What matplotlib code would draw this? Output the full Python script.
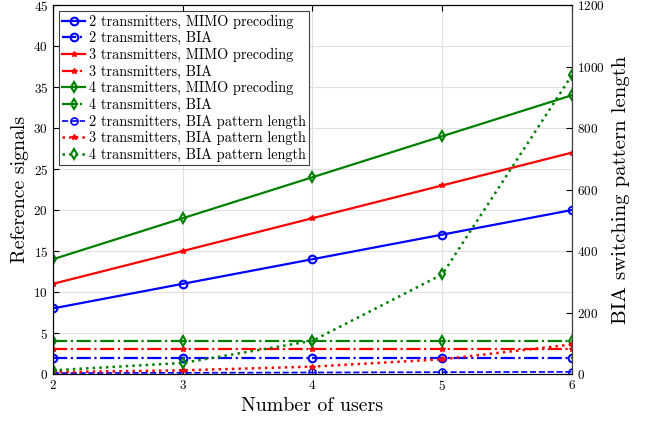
import matplotlib
matplotlib.use('Agg')
import matplotlib.pyplot as plt
import numpy as np

plt.rcParams['font.family'] = ['cmr10', 'DejaVu Serif']
plt.rcParams['axes.unicode_minus'] = False
plt.rcParams['axes.formatter.use_mathtext'] = True

users = [2, 3, 4, 5, 6]

# reference signals (left axis)
mimo_2tx = [8, 11, 14, 17, 20]
bia_2tx = [2, 2, 2, 2, 2]
mimo_3tx = [11, 15, 19, 23, 27]
bia_3tx = [3, 3, 3, 3, 3]
mimo_4tx = [14, 19, 24, 29, 34]
bia_4tx = [4, 4, 4, 4, 4]

# BIA switching pattern length (right axis)
plen_2tx = [3, 4, 5, 6, 7]
plen_3tx = [6, 12, 24, 48, 96]
plen_4tx = [12, 36, 108, 324, 972]

blue = '#0000ff'
red = '#ff0000'
green = '#008000'

fig = plt.figure(figsize=(6.5, 4.21), dpi=100)
ax = fig.add_axes([0.0815, 0.1116, 0.7985, 0.8765])
ax2 = ax.twinx()

lw = 1.6
ms = 5.5
h = []
h += ax.plot(users, mimo_2tx, '-', color=blue, marker='o', mfc='none', mew=1.5, ms=ms, lw=lw,
             label='2 transmitters, MIMO precoding')
h += ax.plot(users, bia_2tx, '-.', color=blue, marker='o', mfc='none', mew=1.5, ms=ms, lw=lw,
             label='2 transmitters, BIA')
h += ax.plot(users, mimo_3tx, '-', color=red, marker='*', ms=4, lw=lw,
             label='3 transmitters, MIMO precoding')
h += ax.plot(users, bia_3tx, '-.', color=red, marker='*', ms=4, lw=lw,
             label='3 transmitters, BIA')
h += ax.plot(users, mimo_4tx, '-', color=green, marker='d', mfc='none', mew=1.5, ms=ms, lw=lw,
             label='4 transmitters, MIMO precoding')
h += ax.plot(users, bia_4tx, '-.', color=green, marker='d', mfc='none', mew=1.5, ms=ms, lw=lw,
             label='4 transmitters, BIA')
h += ax2.plot(users, plen_2tx, '--', color=blue, marker='o', mfc='none', mew=1.2, ms=5, lw=1.2,
              label='2 transmitters, BIA pattern length')
h += ax2.plot(users, plen_3tx, ':', color=red, marker='*', ms=4, lw=1.8,
              label='3 transmitters, BIA pattern length')
h += ax2.plot(users, plen_4tx, ':', color=green, marker='d', mfc='none', mew=1.5, ms=ms, lw=1.8,
              label='4 transmitters, BIA pattern length')

ax.set_xlim(2, 6)
ax.set_ylim(0, 45)
ax.set_xticks(users)
ax.set_yticks(np.arange(0, 46, 5))
ax2.set_ylim(0, 1200)
ax2.set_yticks(np.arange(0, 1201, 200))

ax.grid(True, color='#e0e0e0', lw=0.8)
ax.set_axisbelow(True)
ax.tick_params(direction='in', labelsize=9.5, top=True, length=4)
ax2.tick_params(direction='in', labelsize=9.5, length=4)
ax2.spines['right'].set_color('#404040')

ax.set_xlabel('Number of users', fontsize=14.3, labelpad=3)
ax.set_ylabel('Reference signals', fontsize=14.3, labelpad=3)
ax2.set_ylabel('BIA switching pattern length', fontsize=15, labelpad=5)

leg = ax2.legend(handles=h, loc='upper left', fontsize=10.3, fancybox=False, framealpha=1,
                 edgecolor='#404040', labelspacing=0.18, handlelength=1.6,
                 handletextpad=0.25, borderpad=0.25, borderaxespad=0.4)
leg.get_frame().set_linewidth(0.8)

fig.savefig('out.png', dpi=100)
